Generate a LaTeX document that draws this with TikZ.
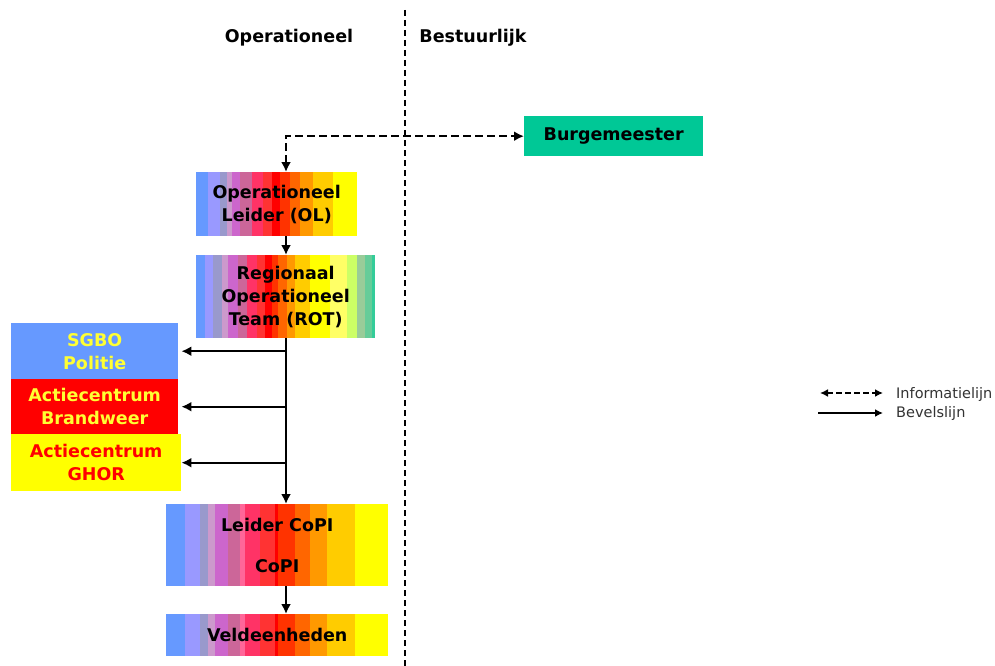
\documentclass[tikz,border=0pt]{standalone}
\usepackage{fontspec}
\setmainfont{DejaVu Sans}
\usetikzlibrary{arrows.meta}
\definecolor{cblue}{HTML}{6699FF}
\definecolor{clav}{HTML}{9999FF}
\definecolor{cgrayp}{HTML}{9999CC}
\definecolor{clpink}{HTML}{CC99CC}
\definecolor{cpurp}{HTML}{CC66CC}
\definecolor{cmauve}{HTML}{CC6699}
\definecolor{crose}{HTML}{FF6699}
\definecolor{cpink}{HTML}{FF3366}
\definecolor{cpred}{HTML}{FF3333}
\definecolor{cred}{HTML}{FF0000}
\definecolor{cored}{HTML}{FF3300}
\definecolor{corange}{HTML}{FF6600}
\definecolor{co2}{HTML}{FF9900}
\definecolor{cgold}{HTML}{FFCC00}
\definecolor{cyel}{HTML}{FFFF00}
\definecolor{clyel}{HTML}{FFFF66}
\definecolor{clgreen}{HTML}{CCFF66}
\definecolor{cgg}{HTML}{99CC99}
\definecolor{cg2}{HTML}{66CC99}
\definecolor{cg3}{HTML}{33CC99}
\definecolor{cteal}{HTML}{00C896}
\definecolor{ctxtyel}{HTML}{FFFF33}
\newcommand\stripes[3]{\foreach \a/\b/\c in {#3}{\fill[fill=\c] (\a,#1) rectangle (\b,#2);}}
\begin{document}
\begin{tikzpicture}[x=1pt,y=-1pt,
  lbl/.style={font=\bfseries\fontsize{17.5}{23}\selectfont, align=center, inner sep=0pt},
  box/.style={lbl, rectangle, anchor=north west},
  arr/.style={line width=2.4pt, -{Latex[length=10pt,width=10pt]}},
  darr/.style={line width=2.4pt, dash pattern=on 8pt off 4pt, {Latex[length=10pt,width=10pt]}-{Latex[length=10pt,width=10pt]}},
  legtxt/.style={font=\fontsize{14.5}{16}\selectfont, text=black!80, anchor=west, inner sep=0pt}]
\fill[white] (0,0) rectangle (995,666);
\useasboundingbox (0,0) rectangle (995,666);

% stripes
\stripes{172}{236}{196/208/cblue,208/220/clav,220/227/cgrayp,227/232/clpink,232/240/cpurp,240/252/cmauve,252/263/cpink,263/272/cpred,272/280/cred,280/290/cored,290/300/corange,300/313/co2,313/333/cgold,333/357/cyel}
\stripes{255}{338}{196/205/cblue,205/213/clav,213/222/cgrayp,222/228/clpink,228/238/cpurp,238/247/cmauve,247/257/cpink,257/265/cpred,265/272/cred,272/278/cored,278/287/corange,287/295/co2,295/310/cgold,310/330/cyel,330/347/clyel,347/357/clgreen,357/365/cgg,365/372/cg2,372/375/cg3}
\stripes{504}{586}{166/185/cblue,185/200/clav,200/208/cgrayp,208/215/clpink,215/228/cpurp,228/240/cmauve,240/245/crose,245/260/cpink,260/275/cpred,275/278/cred,278/295/cored,295/310/corange,310/327/co2,327/355/cgold,355/388/cyel}
\stripes{614}{656}{166/185/cblue,185/200/clav,200/208/cgrayp,208/215/clpink,215/228/cpurp,228/240/cmauve,240/245/crose,245/260/cpink,260/275/cpred,275/278/cred,278/295/cored,295/310/corange,310/327/co2,327/355/cgold,355/388/cyel}

% separator
\coordinate (septop) at (405,10);
\coordinate (sepbot) at (405,666);
\draw[line width=1.8pt, dash pattern=on 6pt off 4pt] (septop) -- (sepbot);

% headers
\node[lbl] (hop) at (289,38) {Operationeel};
\node[lbl] (hbe) at (473,38) {Bestuurlijk};

% boxes
\node[box, fill=cteal, minimum width=179pt, minimum height=40pt] (burg) at (524,116) {Burgemeester};
\node[box, minimum width=161pt, minimum height=64pt] (ol) at (196,172) {Operationeel\\Leider (OL)};
\node[box, minimum width=179pt, minimum height=83pt] (rot) at (196,255) {Regionaal\\Operationeel\\Team (ROT)};
\node[box, fill=cblue, text=ctxtyel, minimum width=167pt, minimum height=56pt] (sgbo) at (11,323) {SGBO\\Politie};
\node[box, fill=cred, text=ctxtyel, minimum width=167pt, minimum height=55pt] (brand) at (11,379) {Actiecentrum\\Brandweer};
\node[box, fill=cyel, text=cred, minimum width=170pt, minimum height=57pt] (ghor) at (11,434) {Actiecentrum\\GHOR};
\node[box, minimum width=222pt, minimum height=82pt] (copi) at (166,504) {Leider CoPI\\[18pt]CoPI};
\node[box, minimum width=222pt, minimum height=42pt] (veld) at (166,614) {Veldeenheden};

% connectors
\coordinate (col) at (286,0);
\draw[darr] (col |- ol.north) -- (col |- burg.west) -- (burg.west);
\draw[arr] (col |- ol.south) -- (col |- rot.north);
\draw[arr] (col |- rot.south) -- (col |- copi.north);
\draw[arr] (col |- sgbo.east) -- ([xshift=3pt]sgbo.east);
\draw[arr] (col |- brand.east) -- ([xshift=3pt]brand.east);
\draw[arr] (col |- ghor.east) -- (ghor.east);
\draw[arr] (col |- copi.south) -- (col |- veld.north);

% legend
\coordinate (l1a) at (820,393);
\coordinate (l1b) at (883,393);
\coordinate (l2a) at (818,413);
\coordinate (l2b) at (883,413);
\draw[line width=1.8pt, dash pattern=on 6pt off 3pt, {Latex[length=8pt,width=8pt]}-{Latex[length=8pt,width=8pt]}] (l1a) -- (l1b);
\draw[line width=1.8pt, -{Latex[length=8pt,width=8pt]}] (l2a) -- (l2b);
\node[legtxt] (t1) at (896,394) {Informatielijn};
\node[legtxt] (t2) at (896,413) {Bevelslijn};
\end{tikzpicture}
\end{document}
